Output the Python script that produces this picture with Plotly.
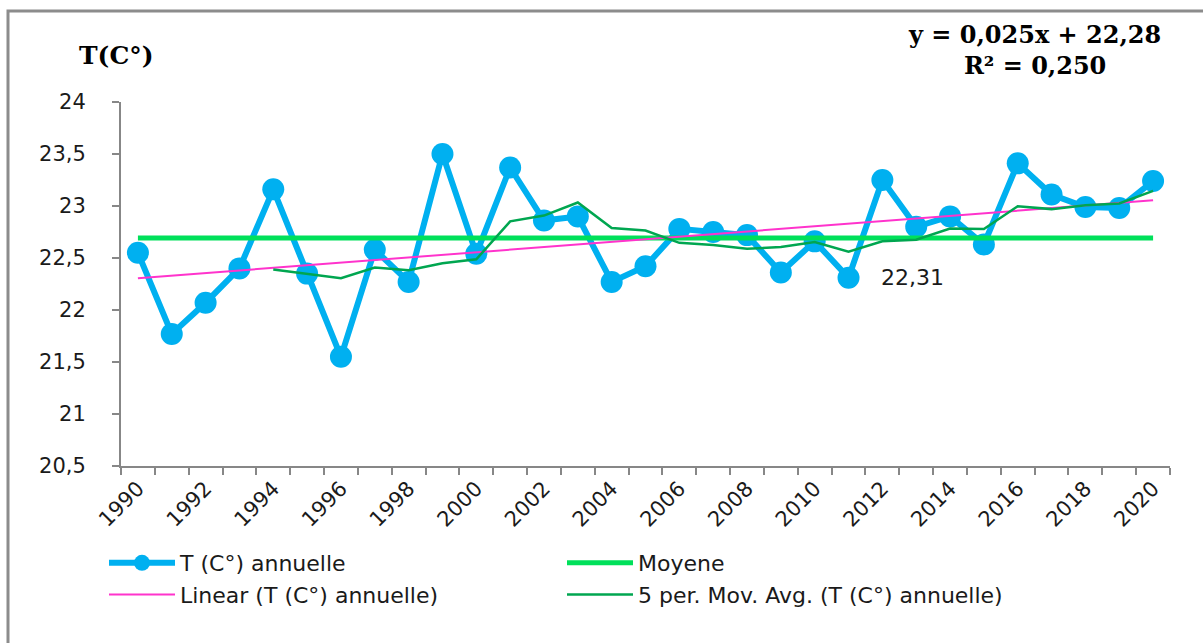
import numpy as np
import pandas as pd
import plotly.graph_objects as go

# Annual mean temperature series
years = list(range(1990, 2021))
temps = [22.55, 21.77, 22.07, 22.40, 23.16, 22.35, 21.55, 22.58, 22.27, 23.50,
         22.54, 23.37, 22.86, 22.90, 22.27, 22.42, 22.78, 22.75, 22.72, 22.36,
         22.66, 22.31, 23.25, 22.80, 22.90, 22.63, 23.41, 23.11, 22.99, 22.98,
         23.24]

# Linear trend coefficients (x = 1 .. n) and fit quality
slope = 0.025
intercept = 22.28
r2 = 0.250

# Point that carries a value label
label_year = 2011

mean_val = float(np.mean(temps))
trend = [intercept + slope * (i + 1) for i in range(len(years))]
mov_avg = pd.Series(temps).rolling(5).mean().tolist()

W, H = 1203, 643
ML, MR, MT, MB = 121, 33, 102, 177
PW, PH = W - ML - MR, H - MT - MB


def px_x(x):
    return (x - ML) / PW


def px_y(y):
    return (H - MB - y) / PH


def fr(v, nd):
    return f"{v:.{nd}f}".replace(".", ",")


axis_grey = "#878787"
tick_font = dict(family="DejaVu Sans", size=21, color="#1a1a1a")
serif_bold = dict(family="DejaVu Serif", size=24, color="#000000")

fig = go.Figure()

fig.add_trace(go.Scatter(
    x=years, y=temps, name="T (C°) annuelle", mode="lines+markers",
    line=dict(color="#00B0F0", width=6),
    marker=dict(color="#00B0F0", size=22, symbol="circle"),
))
fig.add_trace(go.Scatter(
    x=years, y=[mean_val] * len(years), name="Moyene", mode="lines",
    line=dict(color="#00E05A", width=5),
))
fig.add_trace(go.Scatter(
    x=years, y=trend, name="Linear (T (C°) annuelle)", mode="lines",
    line=dict(color="#FF33CC", width=2),
))
fig.add_trace(go.Scatter(
    x=years, y=mov_avg, name="5 per. Mov. Avg. (T (C°) annuelle)", mode="lines",
    line=dict(color="#00A650", width=2.5),
))

li = years.index(label_year)
fig.add_annotation(
    x=label_year, y=temps[li], xref="x", yref="y",
    text=fr(temps[li], 2), showarrow=False,
    xanchor="left", xshift=30, yshift=0,
    font=dict(family="DejaVu Sans", size=22, color="#1a1a1a"),
)

# Axis title and regression equation
fig.add_annotation(
    x=px_x(77), y=px_y(55), xref="paper", yref="paper",
    text="<b>T(C°)</b>", showarrow=False, xanchor="left", yanchor="middle",
    font=dict(serif_bold, size=25),
)
fig.add_annotation(
    x=px_x(1034), y=px_y(50), xref="paper", yref="paper",
    text=f"<b>y = {fr(slope, 3)}x + {fr(intercept, 2)}</b><br><b>R² = {fr(r2, 3)}</b>",
    showarrow=False, align="center",
    xanchor="center", yanchor="middle", font=serif_bold,
)

# Outer frame
fig.add_shape(
    type="rect", xref="paper", yref="paper",
    x0=px_x(8), x1=px_x(1215), y0=px_y(11), y1=px_y(660),
    line=dict(color="#8c8c8c", width=3), fillcolor="rgba(0,0,0,0)",
    layer="below",
)

fig.update_layout(
    width=W, height=H,
    margin=dict(l=ML, r=MR, t=MT, b=MB, pad=0),
    paper_bgcolor="white", plot_bgcolor="white",
    separators=", ",
    showlegend=True,
    legend=dict(
        orientation="h", x=px_x(104), y=px_y(542), xanchor="left", yanchor="top",
        entrywidth=377, entrywidthmode="pixels", itemwidth=66,
        font=dict(family="DejaVu Sans", size=22, color="#1a1a1a"),
        bgcolor="rgba(0,0,0,0)", traceorder="normal",
    ),
    xaxis=dict(
        range=[1989.5, 2020.5], tickmode="linear", tick0=1990, dtick=2,
        ticks="", tickangle=-45, tickfont=tick_font,
        showline=True, linecolor=axis_grey, linewidth=2,
        showgrid=False, zeroline=False,
        minor=dict(tickmode="linear", tick0=1989.5, dtick=1, ticks="outside",
                   ticklen=7, tickcolor=axis_grey, tickwidth=2, showgrid=False),
    ),
    yaxis=dict(
        range=[20.5, 24], tickmode="linear", tick0=20.5, dtick=0.5,
        ticks="outside", ticklen=7, tickcolor=axis_grey, tickwidth=2,
        tickfont=tick_font, ticklabelstandoff=22,
        showline=True, linecolor=axis_grey, linewidth=2,
        showgrid=False, zeroline=False,
    ),
)

fig.write_html("out.html")
